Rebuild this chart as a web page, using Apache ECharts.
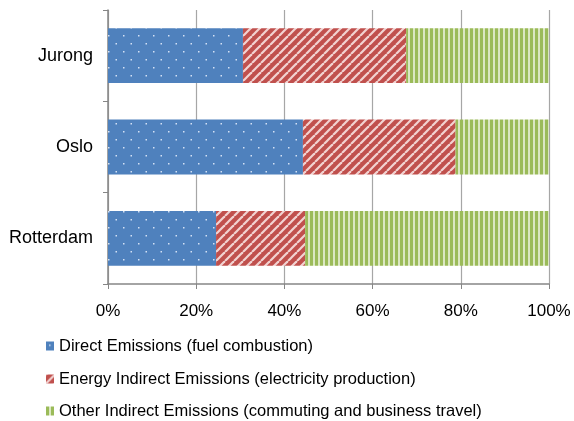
<!DOCTYPE html>
<html>
<head>
<meta charset="utf-8">
<script src="https://cdn.jsdelivr.net/npm/echarts@6/dist/echarts.min.js"></script>
<style>
  html, body { margin: 0; padding: 0; background: #ffffff; }
  #chart { width: 574px; height: 421px; }
</style>
</head>
<body>
<div id="chart"></div>
<script>
// ── Datos ────────────────────────────────────────────────────────────────
const ciudades = ["Jurong", "Oslo", "Rotterdam"];
const directas = [30.6, 44.2, 24.5];
const indirectasEnergia = [37.0, 34.6, 20.2];
const otrasIndirectas = [32.4, 21.2, 55.3];
const nombresSeries = [
   "Direct Emissions (fuel combustion)",
   "Energy Indirect Emissions (electricity production)",
   "Other Indirect Emissions (commuting and business travel)"
];

// ── Tramas (patrones tipo Excel) ─────────────────────────────────────────
const fnPatronPuntos = () => {
   const c = document.createElement("canvas");
   c.width = 15; c.height = 16;
   const ctx = c.getContext("2d");
   ctx.fillStyle = "#4f81bd";
   ctx.fillRect(0, 0, 15, 16);
   ctx.fillStyle = "rgba(225,235,250,0.9)";
   ctx.fillRect(3, 3, 1.5, 1.5);
   ctx.fillRect(10.5, 11, 1.5, 1.5);
   return c;
};

const fnPatronDiagonal = () => {
   const t = 9;
   const c = document.createElement("canvas");
   c.width = t; c.height = t;
   const ctx = c.getContext("2d");
   ctx.fillStyle = "#c0504d";
   ctx.fillRect(0, 0, t, t);
   ctx.strokeStyle = "#f2d3d2";
   ctx.lineWidth = 2.2;
   for (let k = -t; k <= t; k += t) {
      ctx.beginPath();
      ctx.moveTo(k, t);
      ctx.lineTo(k + t, 0);
      ctx.stroke();
   }
   return c;
};

const fnPatronVertical = () => {
   const c = document.createElement("canvas");
   c.width = 5; c.height = 4;
   const ctx = c.getContext("2d");
   ctx.fillStyle = "#9bbb59";
   ctx.fillRect(0, 0, 5, 4);
   ctx.fillStyle = "#dbe7c3";
   ctx.fillRect(3, 0, 2, 4);
   return c;
};

const colorPuntos = { image: fnPatronPuntos(), repeat: "repeat" };
const colorDiagonal = { image: fnPatronDiagonal(), repeat: "repeat" };
const colorVertical = { image: fnPatronVertical(), repeat: "repeat" };

const fuente = "'Liberation Sans', Arial, sans-serif";
const grisEje = "#868686";

const grafica = echarts.init(document.getElementById("chart"), null, { renderer: "canvas" });

const serieBase = {
   type: "bar",
   stack: "total",
   barWidth: "60%",
   emphasis: { disabled: true }
};

// una leyenda por fila, como en el original
const filasLeyenda = [346, 379, 411];
const leyendas = nombresSeries.map((nombre, i) => ({
   orient: "vertical",
   left: 46,
   top: filasLeyenda[i] - 10,
   padding: 0,
   itemWidth: 8,
   itemHeight: 9,
   icon: "rect",
   selectedMode: false,
   data: [nombre],
   textStyle: { fontFamily: fuente, fontSize: 16.5, color: "#000000", lineHeight: 20 }
}));

grafica.setOption({
   animation: false,
   backgroundColor: "#ffffff",
   grid: { left: 108, right: 25, top: 10, bottom: 137, containLabel: false },
   legend: leyendas,
   xAxis: {
      type: "value",
      min: 0,
      max: 100,
      interval: 20,
      axisLine: { show: true, lineStyle: { color: grisEje, width: 1.5 } },
      axisTick: { show: true, length: 5, lineStyle: { color: grisEje } },
      splitLine: { show: true, lineStyle: { color: "#a6a6a6", width: 1.2 } },
      axisLabel: {
         formatter: "{value}%",
         margin: 19,
         fontFamily: fuente,
         fontSize: 17,
         color: "#000000"
      }
   },
   yAxis: {
      type: "category",
      data: ciudades,
      inverse: true,
      axisLine: { show: true, lineStyle: { color: grisEje, width: 1.5 } },
      axisTick: { show: true, length: 5, lineStyle: { color: grisEje } },
      axisLabel: { margin: 15, fontFamily: fuente, fontSize: 18, color: "#000000" }
   },
   series: [
      { ...serieBase, name: nombresSeries[0], data: directas, itemStyle: { color: colorPuntos } },
      { ...serieBase, name: nombresSeries[1], data: indirectasEnergia, itemStyle: { color: colorDiagonal } },
      { ...serieBase, name: nombresSeries[2], data: otrasIndirectas, itemStyle: { color: colorVertical } }
   ]
});
</script>
</body>
</html>
